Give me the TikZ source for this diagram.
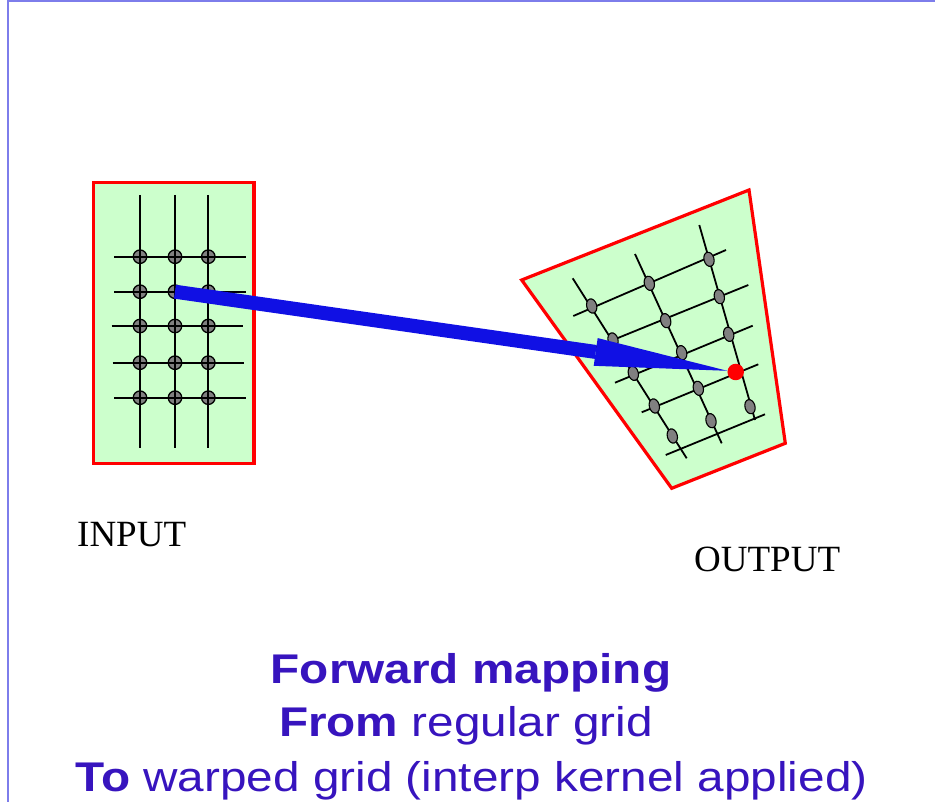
\documentclass[tikz,border=0pt]{standalone}
\usepackage{graphicx}
\usepackage{fontspec}
\setmainfont{Liberation Serif}
\newfontfamily\slidesans{Liberation Sans}
\usetikzlibrary{arrows.meta,shapes.geometric}
\definecolor{gridgreen}{RGB}{204,255,204}
\definecolor{arrowblue}{RGB}{16,16,228}
\definecolor{titleviolet}{RGB}{55,20,190}
\definecolor{framelilac}{RGB}{125,125,235}

\begin{document}
\begin{tikzpicture}[x=1pt,y=-1pt,
    panel/.style={draw=red,line width=3.2pt,fill=gridgreen},
    gridline/.style={black,line width=1.8pt},
    inknot/.style={circle,draw=black,fill=gray,line width=1.3pt,minimum size=13.5pt,inner sep=0pt},
    outknot/.style={ellipse,draw=black,fill=gray,line width=1.1pt,minimum width=10pt,minimum height=14.5pt,inner sep=0pt,rotate=15},
    bigarrow/.style={arrowblue,line width=14pt,-{Triangle[length=133pt,width=28pt,line width=0pt]}},
    boxname/.style={inner sep=0pt,anchor=base west,font=\fontsize{37}{44}\selectfont},
    caption/.style={inner sep=0pt,anchor=base,text=titleviolet,font=\slidesans\fontsize{41.5}{50}\selectfont}]
        \useasboundingbox (0,0) rectangle (935,802);
        \draw[framelilac,line width=2pt] (935,1.5) -- (7.8,1.5) -- (7.8,802);

        \draw[panel] (93.3,182.7) rectangle (254,463.3);
        \foreach \c/\x in {1/140,2/175,3/208.3}
            \foreach \r/\y in {1/256.7,2/291.7,3/326,4/362.7,5/397.7}
                \node[inknot] (in-\c-\r) at (\x,\y) {};
        \foreach \x in {140,175,208.3}
            \draw[gridline] (\x,195) -- (\x,448.3);
        \foreach \y/\a/\b in {256.7/114/246,291.7/114/246,326/111.7/243.3,362.7/112.7/244.3,397.7/114/246}
            \draw[gridline] (\a,\y) -- (\b,\y);

        \draw[panel] (521.7,280) -- (749,190) -- (785.3,443.3) -- (671.7,488.3) -- cycle;
        \foreach \xa/\ya/\xb/\yb in {572.7/278.3/686.7/458.3,635/254/721.7/443.3,699.3/225/755/420,
                573.3/316/726/250,594/347.7/748.3/285,615/382.7/752.7/325.7,641.7/412.3/758.3/364.3,665.7/455/765/414.3}
            \draw[gridline] (\xa,\ya) -- (\xb,\yb);
        \foreach \n/\x/\y in {1-1/591.7/306,1-2/613/340,1-3/633.3/373.3,1-4/654.3/406,1-5/672.3/436,
                2-1/649.3/283.3,2-2/665.7/320.7,2-3/681.7/352.7,2-4/698.3/388.3,2-5/711/420.7,
                3-1/709/259.3,3-2/719.3/296.7,3-3/728.7/334.3,3-5/750/406.7}
            \node[outknot] (out-\n) at (\x,\y) {};
        \node[circle,fill=red,minimum size=16.5pt,inner sep=0pt] (hit) at (735.7,372) {};

        \draw[bigarrow] (in-2-2.center) -- (hit);

        \node[boxname] (input) at (77,546.7) {INPUT};
        \node[boxname] (output) at (694,571.7) {OUTPUT};
        \node[caption] (title) at (471,683.3) {\scalebox{1.15}[1]{\bfseries Forward mapping}};
        \node[caption] (fromline) at (466,736.7) {\scalebox{1.15}[1]{\textbf{From} regular grid}};
        \node[caption] (toline) at (471.5,791.7) {\scalebox{1.15}[1]{\textbf{To} warped grid (interp kernel applied)}};
    \end{tikzpicture}
\end{document}
